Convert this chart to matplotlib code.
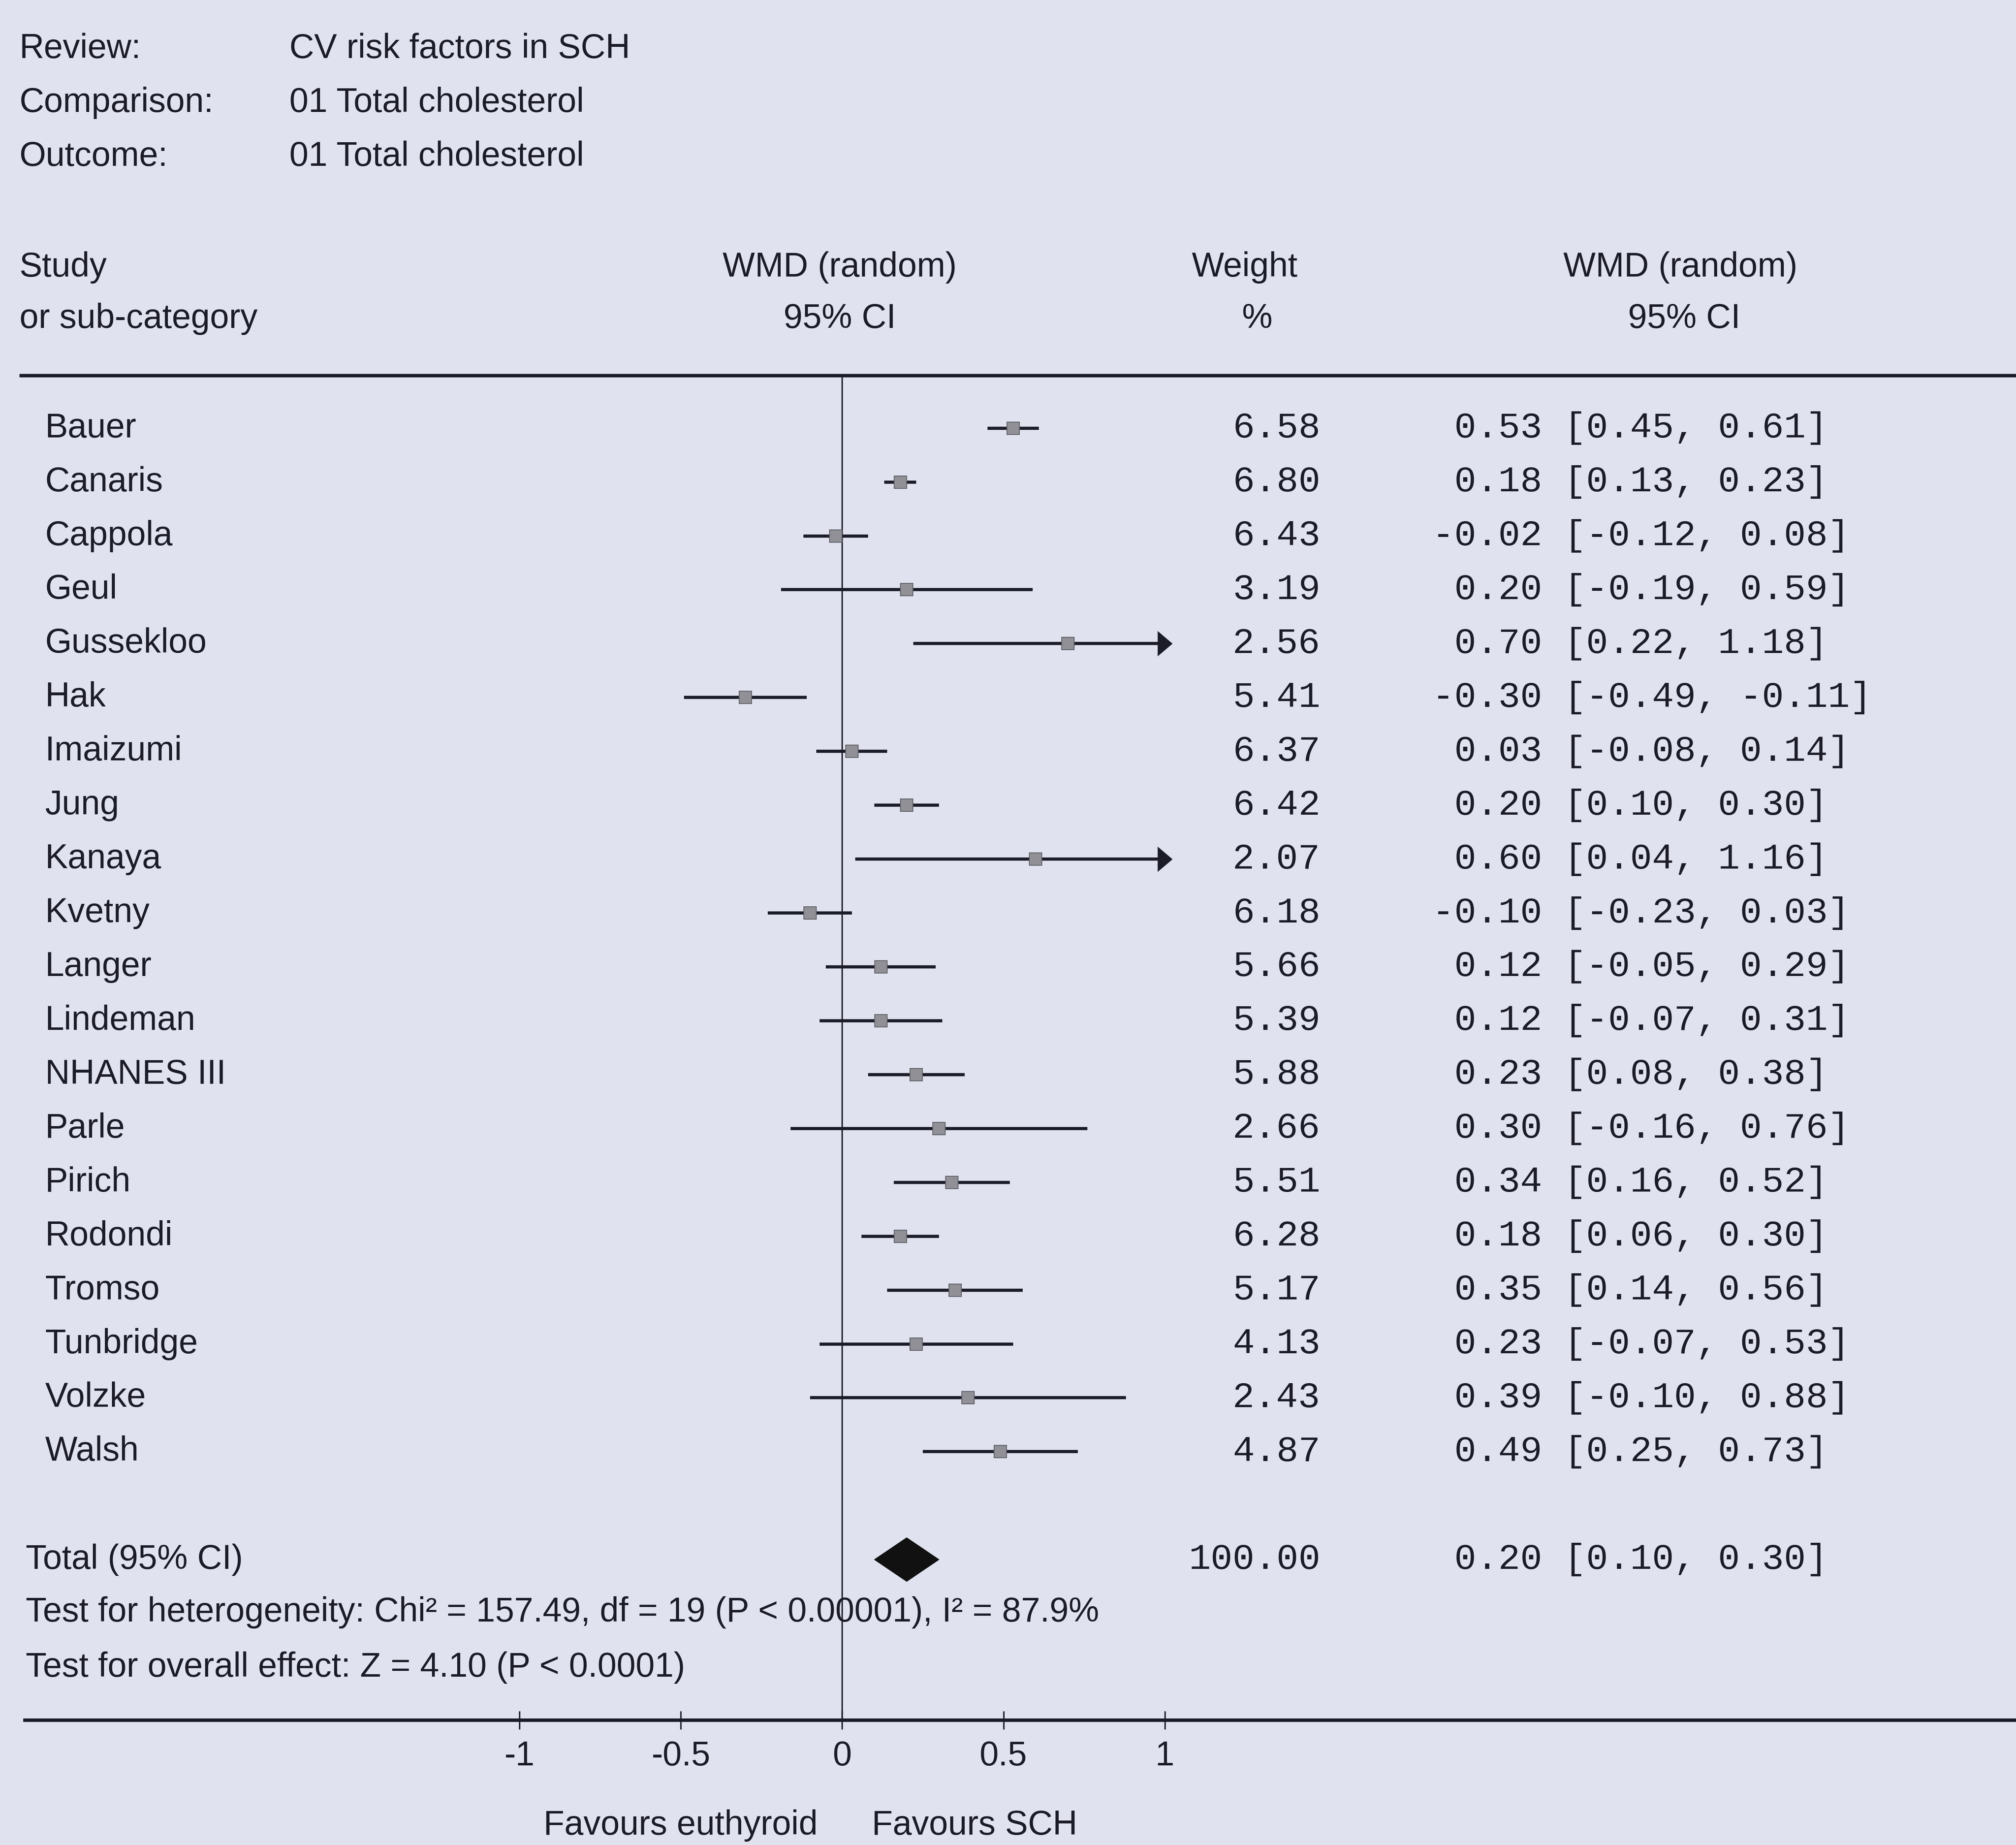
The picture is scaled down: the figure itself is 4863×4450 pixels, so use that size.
import matplotlib
matplotlib.use("Agg")
import matplotlib.pyplot as plt
import numpy as np

# ---------------- data ----------------
header_labels = ["Review:", "Comparison:", "Outcome:"]
header_values = ["CV risk factors in SCH", "01 Total cholesterol", "01 Total cholesterol"]

studies = ["Bauer", "Canaris", "Cappola", "Geul", "Gussekloo", "Hak", "Imaizumi", "Jung",
           "Kanaya", "Kvetny", "Langer", "Lindeman", "NHANES III", "Parle", "Pirich",
           "Rodondi", "Tromso", "Tunbridge", "Volzke", "Walsh"]
weights = [6.58, 6.80, 6.43, 3.19, 2.56, 5.41, 6.37, 6.42, 2.07, 6.18,
           5.66, 5.39, 5.88, 2.66, 5.51, 6.28, 5.17, 4.13, 2.43, 4.87]
est = [0.53, 0.18, -0.02, 0.20, 0.70, -0.30, 0.03, 0.20, 0.60, -0.10,
       0.12, 0.12, 0.23, 0.30, 0.34, 0.18, 0.35, 0.23, 0.39, 0.49]
lo = [0.45, 0.13, -0.12, -0.19, 0.22, -0.49, -0.08, 0.10, 0.04, -0.23,
      -0.05, -0.07, 0.08, -0.16, 0.16, 0.06, 0.14, -0.07, -0.10, 0.25]
hi = [0.61, 0.23, 0.08, 0.59, 1.18, -0.11, 0.14, 0.30, 1.16, 0.03,
      0.29, 0.31, 0.38, 0.76, 0.52, 0.30, 0.56, 0.53, 0.88, 0.73]

total_label = "Total (95% CI)"
total_weight = 100.00
total_est, total_lo, total_hi = 0.20, 0.10, 0.30
het_text = "Test for heterogeneity: Chi\u00b2 = 157.49, df = 19 (P < 0.00001), I\u00b2 = 87.9%"
overall_text = "Test for overall effect: Z = 4.10 (P < 0.0001)"

ticks = [-1, -0.5, 0, 0.5, 1]
tick_labels = ["-1", "-0.5", "0", "0.5", "1"]
favours_left = "Favours euthyroid"
favours_right = "Favours SCH"

# ---------------- layout (reference px at 1568 x 1435) ----------------
W, H = 1568.0, 1435.0
zero_px, unit_px = 655.0, 251.0
def X(px):
    return (px - zero_px) / unit_px

bg = "#e0e3ef"
ink = "#1c1c28"
sans = ["Liberation Sans", "DejaVu Sans"]
mono = ["Liberation Mono", "DejaVu Sans Mono"]
fs_sans = 59.5
fs_mono = 63.5

fig = plt.figure(figsize=(48.63, 44.50), dpi=100, facecolor=bg)
ax = fig.add_axes([0, 0, 1, 1])
ax.set_facecolor(bg)
ax.set_xlim(X(0), X(W))
ax.set_ylim(H, 0)
ax.axis("off")

def txt(xpx, ypx, s, ha="left", family=sans, fs=fs_sans):
    ax.text(X(xpx), ypx, s, ha=ha, va="center", family=family, fontsize=fs, color=ink)

# header
for i, (lab, val) in enumerate(zip(header_labels, header_values)):
    y = 38 + i * 42
    txt(15, y, lab)
    txt(225, y, val)

txt(15, 208, "Study")
txt(15, 248, "or sub-category")
txt(653, 208, "WMD (random)", ha="center")
txt(653, 248, "95% CI", ha="center")
txt(968, 208, "Weight", ha="center")
txt(978, 248, "%", ha="center")
txt(1307, 208, "WMD (random)", ha="center")
txt(1310, 248, "95% CI", ha="center")

# rules
ax.plot([X(15), X(W)], [292, 292], color=ink, lw=6, solid_capstyle="butt")
ax.plot([X(18), X(W)], [1338, 1338], color=ink, lw=6, solid_capstyle="butt")
ax.plot([0, 0], [292, 1338], color=ink, lw=2.5)

# study rows
y0, dy = 333.0, 41.9
axis_max = max(ticks)
axis_min = min(ticks)
for i, (name, w, e, l, h) in enumerate(zip(studies, weights, est, lo, hi)):
    y = y0 + i * dy
    txt(35, y, name)
    txt(1027, y, f"{w:.2f}", ha="right", family=mono, fs=fs_mono)
    txt(1114, y, f"{e:5.2f} [{l:.2f}, {h:.2f}]", family=mono, fs=fs_mono)
    right = min(h, axis_max)
    left = max(l, axis_min)
    ax.plot([left, right], [y, y], color=ink, lw=5.5, solid_capstyle="butt", zorder=3)
    if h > axis_max:
        ax.plot([axis_max], [y], marker=[(-1, -1.7), (1, 0), (-1, 1.7)],
                markersize=44, color=ink, markeredgewidth=0, zorder=4)
    ax.plot([e], [y], marker="s", markersize=21, color="#909096",
            markeredgecolor="#606068", markeredgewidth=1.5, zorder=5)

# total
yt = 1213
txt(20, yt, total_label)
txt(1027, yt, f"{total_weight:.2f}", ha="right", family=mono, fs=fs_mono)
txt(1114, yt, f"{total_est:5.2f} [{total_lo:.2f}, {total_hi:.2f}]", family=mono, fs=fs_mono)
dh = 17
ax.fill([total_lo, total_est, total_hi, total_est], [yt, yt - dh, yt, yt + dh],
        color="#111111", zorder=5)
txt(20, 1254, het_text)
txt(20, 1297, overall_text)

# axis ticks
ax.vlines(ticks, 1331, 1345, color=ink, lw=2.5)
for t, tl in zip(ticks, tick_labels):
    ax.text(t, 1366, tl, ha="center", va="center", family=sans, fontsize=fs_sans, color=ink)
ax.text(X(636), 1420, favours_left, ha="right", va="center", family=sans, fontsize=fs_sans, color=ink)
ax.text(X(678), 1420, favours_right, ha="left", va="center", family=sans, fontsize=fs_sans, color=ink)

fig.savefig("out.png", dpi=100, facecolor=bg)
